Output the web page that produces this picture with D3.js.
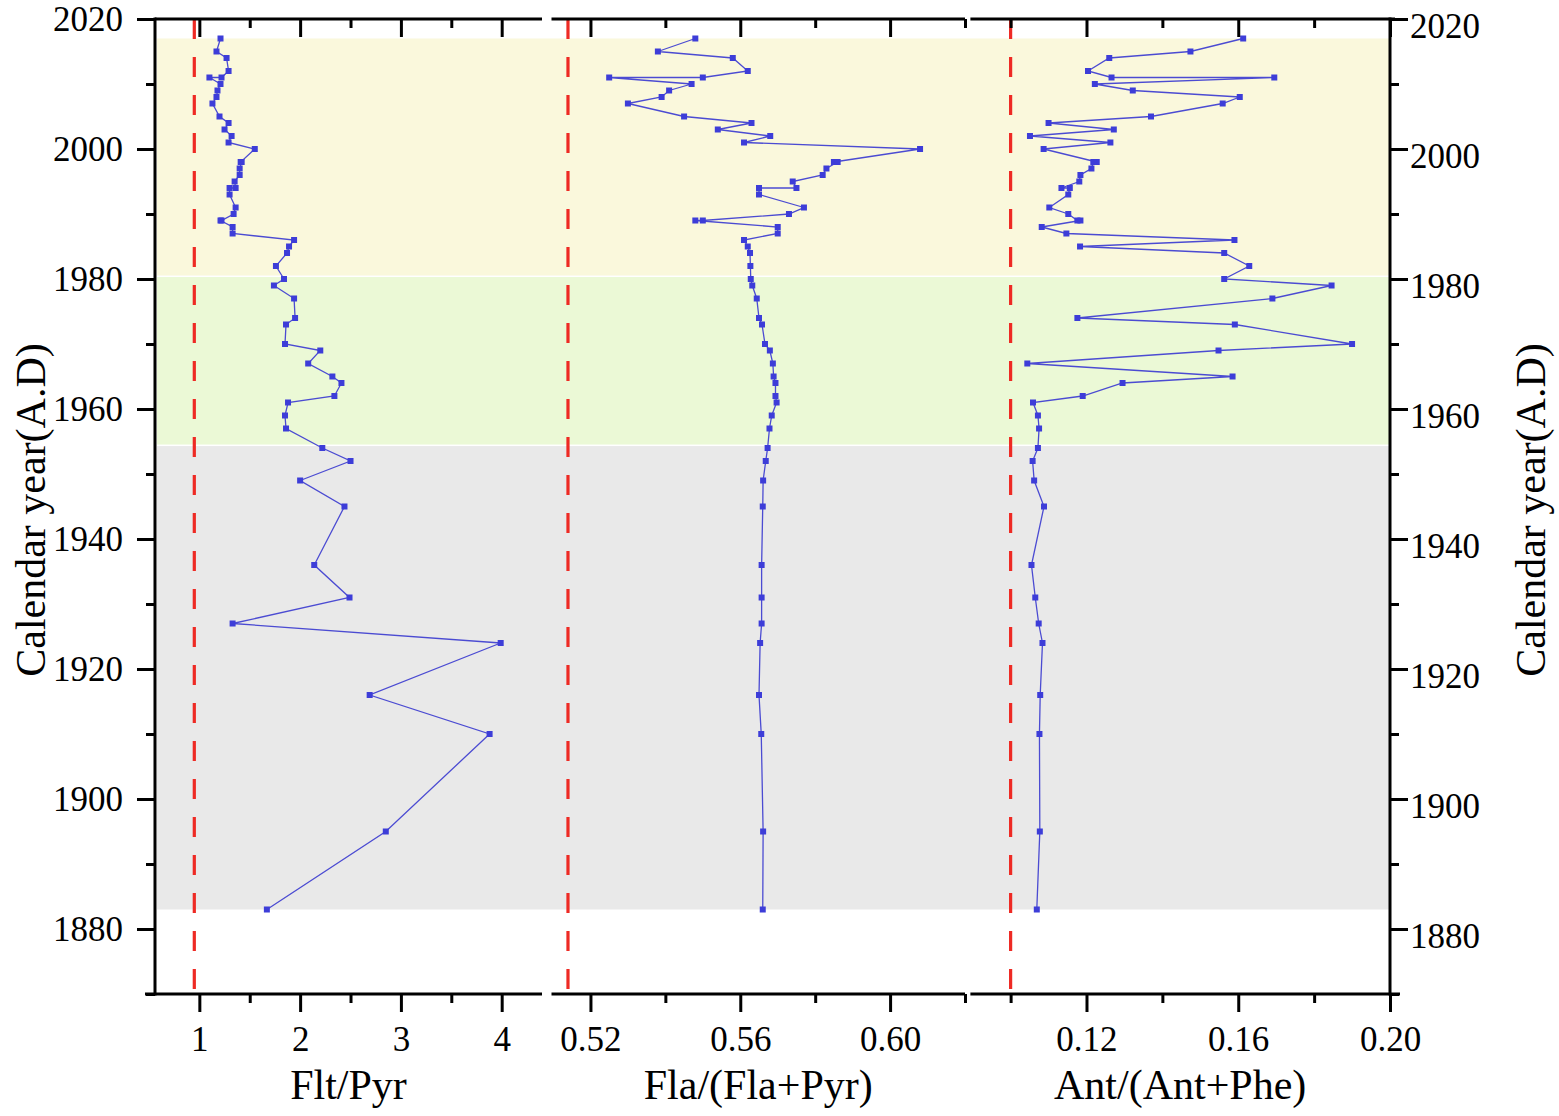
<html>
<head>
<script src="https://d3js.org/d3.v7.min.js"></script>
<style>
  body { margin: 0; background: #fff; }
  svg text { font-family: "Liberation Serif", "Times New Roman", serif; fill: #000; }
  .axis .tick line { stroke: #000; stroke-width: 3; }
  .axis .domain { stroke: none; }
  .frame { stroke: #000; stroke-width: 3; }
</style>
</head>
<body>
<svg id="chart" width="1559" height="1116"></svg>
<script>
// sample years, top core section first
const years = [2017, 2015, 2014, 2012, 2011, 2011, 2010, 2009, 2008, 2007, 2005, 2004, 2003, 2002, 2001, 2000,
  1998, 1998, 1997, 1996, 1995, 1994, 1994, 1993, 1991, 1990, 1989, 1989, 1988, 1987, 1986, 1985, 1984, 1982,
  1980, 1979, 1977, 1974, 1973, 1970, 1969, 1967, 1965, 1964, 1962, 1961, 1959, 1957, 1954, 1952, 1949, 1945,
  1936, 1931, 1927, 1924, 1916, 1910, 1895, 1883];

const fltPyr = [1.21, 1.17, 1.27, 1.29, 1.22, 1.10, 1.21, 1.18, 1.17, 1.13, 1.20, 1.29, 1.25, 1.32, 1.29, 1.55,
  1.41, 1.42, 1.40, 1.40, 1.35, 1.36, 1.30, 1.30, 1.36, 1.34, 1.22, 1.21, 1.33, 1.33, 1.94, 1.89, 1.87, 1.76,
  1.84, 1.74, 1.94, 1.95, 1.86, 1.85, 2.20, 2.08, 2.32, 2.41, 2.34, 1.88, 1.85, 1.86, 2.22, 2.50, 2.00, 2.44,
  2.14, 2.49, 1.33, 3.99, 2.69, 3.88, 2.85, 1.67];

const flaFlaPyr = [0.548, 0.538, 0.558, 0.562, 0.550, 0.525, 0.547, 0.541, 0.539, 0.530, 0.545, 0.563, 0.554, 0.568, 0.561, 0.608,
  0.585, 0.586, 0.583, 0.582, 0.574, 0.575, 0.565, 0.565, 0.577, 0.573, 0.550, 0.548, 0.570, 0.570, 0.561, 0.562, 0.5626, 0.5627,
  0.5628, 0.5632, 0.5644, 0.5650, 0.5658, 0.5666, 0.5679, 0.5687, 0.5689, 0.5694, 0.5694, 0.5697, 0.5684, 0.5678, 0.5673, 0.5668, 0.5661, 0.5660,
  0.5657, 0.5657, 0.5657, 0.5653, 0.5650, 0.5656, 0.5661, 0.5660];

const antAntPhe = [0.1613, 0.1474, 0.1260, 0.1204, 0.1266, 0.1695, 0.1222, 0.1322, 0.1604, 0.1559, 0.1370, 0.1100, 0.1272, 0.1051, 0.1263, 0.1087,
  0.1227, 0.1218, 0.1213, 0.1184, 0.1181, 0.1134, 0.1156, 0.1152, 0.1102, 0.1152, 0.1176, 0.1184, 0.1082, 0.1147, 0.1590, 0.1183, 0.1563, 0.1629,
  0.1563, 0.1846, 0.1690, 0.1176, 0.1591, 0.1900, 0.1548, 0.1044, 0.1585, 0.1295, 0.1190, 0.1059, 0.1072, 0.1075, 0.1072, 0.1058, 0.1062, 0.1088,
  0.1055, 0.1065, 0.1074, 0.1084, 0.1078, 0.1076, 0.1077, 0.1069];

const yearTicks = [1880, 1900, 1920, 1940, 1960, 1980, 2000, 2020];
const yearMinor = [1870, 1890, 1910, 1930, 1950, 1970, 1990, 2010];

// period bands (yellow, green, grey)
const bandEdges = [2017, 1980.3, 1954.3, 1883];
const bandColors = ['#faf8dc', '#ebf9d6', '#e9e9e9'];

const xTitles = ['Flt/Pyr', 'Fla/(Fla+Pyr)', 'Ant/(Ant+Phe)'];
const refValues = [0.95, 0.514, 0.10];

const FONT = '"Liberation Serif", "Times New Roman", serif';
const svg = d3.select('#chart');
const yTop = 19, yBot = 994;
const y = d3.scaleLinear().domain([1870, 2020]).range([yBot, yTop]);

const panels = [
  { values: fltPyr, domain: [0.56, 4.40], range: [155, 542], major: [1, 2, 3, 4], minor: [1.5, 2.5, 3.5], fmt: d3.format('d'), lineStart: 145 },
  { values: flaFlaPyr, domain: [0.5096, 0.62], range: [551.5, 965], major: [0.52, 0.56, 0.60], minor: [0.54, 0.58, 0.62], fmt: d3.format('.2f') },
  { values: antAntPhe, domain: [0.0894, 0.20], range: [970.4, 1390], major: [0.12, 0.16, 0.20], minor: [0.10, 0.14, 0.18], fmt: d3.format('.2f'), lineEnd: 1400 }
];
panels.forEach((p, i) => {
  p.x = d3.scaleLinear().domain(p.domain).range(p.range);
  p.title = xTitles[i];
  p.ref = refValues[i];
});

// background bands
svg.append('g').selectAll('rect')
  .data(bandColors)
  .join('rect')
  .attr('x', 157)
  .attr('width', 1389 - 157)
  .attr('y', (d, i) => y(bandEdges[i]))
  .attr('height', (d, i) => y(bandEdges[i + 1]) - y(bandEdges[i]) - (i < 2 ? 1.5 : 0))
  .attr('fill', d => d);

// red reference lines
svg.append('g').selectAll('line')
  .data(panels)
  .join('line')
  .attr('x1', d => d.x(d.ref)).attr('x2', d => d.x(d.ref))
  .attr('y1', yTop).attr('y2', 1002)
  .attr('stroke', '#ee2a24')
  .attr('stroke-width', 3.2)
  .attr('stroke-dasharray', '20,18');

// data series
panels.forEach(p => {
  const pts = years.map((yr, i) => [p.x(p.values[i]), y(yr)]);
  const g = svg.append('g');
  g.append('path')
    .attr('d', d3.line()(pts))
    .attr('fill', 'none')
    .attr('stroke', '#4b4bd2')
    .attr('stroke-width', 1.3);
  g.selectAll('rect')
    .data(pts)
    .join('rect')
    .attr('x', d => d[0] - 3).attr('y', d => d[1] - 3)
    .attr('width', 6).attr('height', 6)
    .attr('fill', '#3d3dd8');
});

const styleLabels = g => g.attr('font-family', FONT).selectAll('text').attr('font-size', 35);

// x axes
panels.forEach(p => {
  svg.append('g').attr('class', 'axis')
    .attr('transform', `translate(0,${yBot})`)
    .call(d3.axisBottom(p.x).tickValues(p.major).tickSize(18).tickPadding(14).tickFormat(p.fmt))
    .call(styleLabels);
  svg.append('g').attr('class', 'axis')
    .attr('transform', `translate(0,${yBot})`)
    .call(d3.axisBottom(p.x).tickValues(p.minor).tickSize(9).tickFormat(''));
  svg.append('g').attr('class', 'axis')
    .attr('transform', `translate(0,${yTop})`)
    .call(d3.axisTop(p.x).tickValues(p.major).tickSize(-18).tickFormat(''));
  svg.append('g').attr('class', 'axis')
    .attr('transform', `translate(0,${yTop})`)
    .call(d3.axisTop(p.x).tickValues(p.minor).tickSize(-9).tickFormat(''));

  svg.append('line').attr('class', 'frame')
    .attr('x1', p.lineStart || p.range[0]).attr('x2', p.lineEnd || p.range[1])
    .attr('y1', yBot).attr('y2', yBot);
  svg.append('line').attr('class', 'frame')
    .attr('x1', p.range[0]).attr('x2', p.lineEnd ? p.lineEnd - 5 : p.range[1])
    .attr('y1', yTop).attr('y2', yTop);

  svg.append('text')
    .attr('x', d3.mean(p.range)).attr('y', 1099)
    .attr('text-anchor', 'middle')
    .attr('font-family', FONT)
    .attr('font-size', 42)
    .text(p.title);
});

// y axes
const xLeft = panels[0].range[0], xRight = panels[2].range[1];
svg.append('g').attr('class', 'axis')
  .attr('transform', `translate(${xLeft},0)`)
  .call(d3.axisLeft(y).tickValues(yearTicks).tickSize(18).tickPadding(14).tickFormat(d3.format('d')))
  .call(styleLabels);
svg.append('g').attr('class', 'axis')
  .attr('transform', `translate(${xLeft},0)`)
  .call(d3.axisLeft(y).tickValues(yearMinor).tickSize(9).tickFormat(''));
svg.append('g').attr('class', 'axis')
  .attr('transform', `translate(${xRight},0)`)
  .call(d3.axisRight(y).tickValues(yearTicks).tickSize(18).tickPadding(2).tickFormat(d3.format('d')))
  .call(styleLabels)
  .call(g => g.selectAll('text').attr('dy', '0.52em'));
svg.append('g').attr('class', 'axis')
  .attr('transform', `translate(${xRight},0)`)
  .call(d3.axisRight(y).tickValues(yearMinor).tickSize(9).tickFormat(''));

svg.append('line').attr('class', 'frame')
  .attr('x1', xLeft).attr('x2', xLeft).attr('y1', yTop - 1.5).attr('y2', yBot + 1.5);
svg.append('line').attr('class', 'frame')
  .attr('x1', xRight).attr('x2', xRight).attr('y1', yTop - 1.5).attr('y2', yBot + 1.5);

svg.append('text')
  .attr('transform', 'translate(45,510) rotate(-90)')
  .attr('text-anchor', 'middle')
  .attr('font-family', FONT)
  .attr('font-size', 42)
  .text('Calendar year(A.D)');
svg.append('text')
  .attr('transform', 'translate(1545,510) rotate(-90)')
  .attr('text-anchor', 'middle')
  .attr('font-family', FONT)
  .attr('font-size', 42)
  .text('Calendar year(A.D)');
</script>
</body>
</html>
